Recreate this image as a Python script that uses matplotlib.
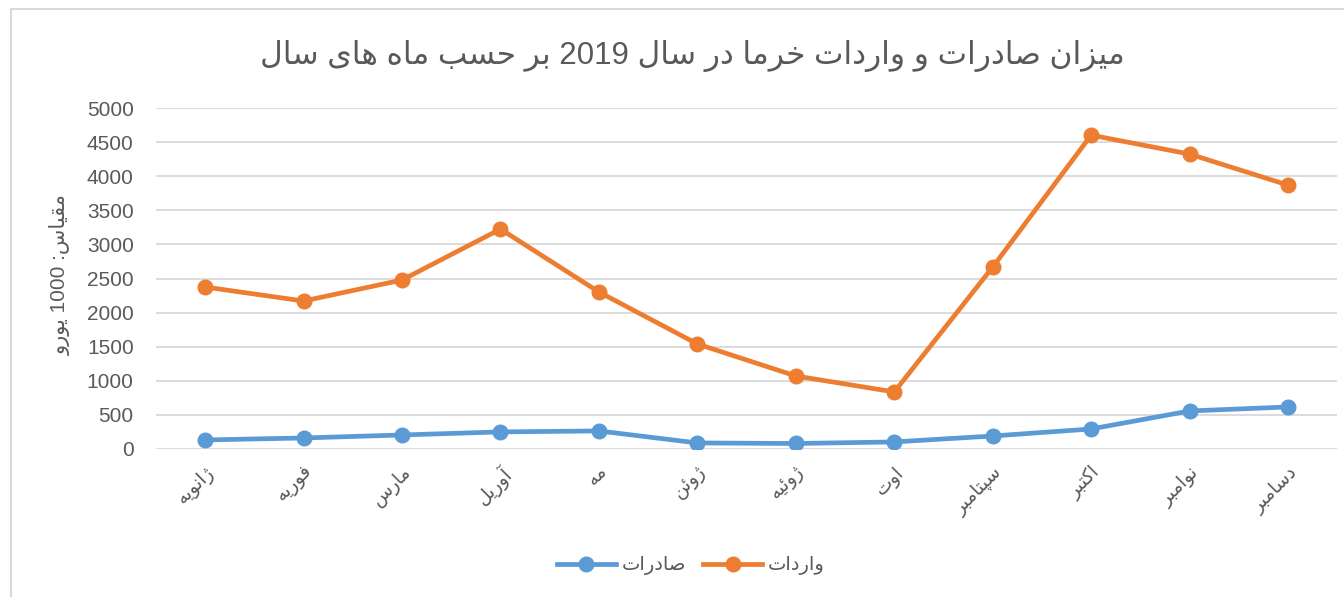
import re
import matplotlib
matplotlib.use("Agg")
import matplotlib.pyplot as plt
from matplotlib.patches import Rectangle

plt.rcParams['font.family'] = ['Liberation Sans', 'DejaVu Sans']

# data
months = ["ژانویه", "فوریه", "مارس", "آوریل", "مه", "ژوئن",
          "ژوئیه", "اوت", "سپتامبر", "اکتبر", "نوامبر", "دسامبر"]
exports = [132, 161, 205, 250, 264, 88, 80, 103, 190, 293, 557, 616]
imports = [2375, 2170, 2478, 3225, 2302, 1540, 1070, 836, 2668, 4603, 4325, 3870]
title = "میزان صادرات و واردات خرما در سال 2019 بر حسب ماه های سال"
ylabel = "مقیاس: 1000 یورو"
name_exp = "صادرات"
name_imp = "واردات"
yticks = [0, 500, 1000, 1500, 2000, 2500, 3000, 3500, 4000, 4500, 5000]

# arabic presentation forms: isolated, final, (initial, medial)
FORMS = {
    'ا': (0xFE8D, 0xFE8E), 'آ': (0xFE81, 0xFE82),
    'د': (0xFEA9, 0xFEAA), 'ر': (0xFEAD, 0xFEAE),
    'ز': (0xFEAF, 0xFEB0), 'ژ': (0xFB8A, 0xFB8B),
    'و': (0xFEED, 0xFEEE),
    'ب': (0xFE8F, 0xFE90, 0xFE91, 0xFE92), 'پ': (0xFB56, 0xFB57, 0xFB58, 0xFB59),
    'ت': (0xFE95, 0xFE96, 0xFE97, 0xFE98), 'ح': (0xFEA1, 0xFEA2, 0xFEA3, 0xFEA4),
    'خ': (0xFEA5, 0xFEA6, 0xFEA7, 0xFEA8), 'س': (0xFEB1, 0xFEB2, 0xFEB3, 0xFEB4),
    'ص': (0xFEB9, 0xFEBA, 0xFEBB, 0xFEBC), 'ف': (0xFED1, 0xFED2, 0xFED3, 0xFED4),
    'ق': (0xFED5, 0xFED6, 0xFED7, 0xFED8), 'ک': (0xFB8E, 0xFB8F, 0xFB90, 0xFB91),
    'ل': (0xFEDD, 0xFEDE, 0xFEDF, 0xFEE0), 'م': (0xFEE1, 0xFEE2, 0xFEE3, 0xFEE4),
    'ن': (0xFEE5, 0xFEE6, 0xFEE7, 0xFEE8), 'ه': (0xFEE9, 0xFEEA, 0xFEEB, 0xFEEC),
    'ی': (0xFBFC, 0xFBFD, 0xFBFE, 0xFBFF), 'ئ': (0xFE89, 0xFE8A, 0xFE8B, 0xFE8C),
}


def fa(s):
    # join letters, then put them in visual (right to left) order
    out = []
    for i, ch in enumerate(s):
        if ch not in FORMS:
            out.append(ch)
            continue
        prev = s[i - 1] if i > 0 else ''
        nxt = s[i + 1] if i < len(s) - 1 else ''
        f = FORMS[ch]
        jp = prev in FORMS and len(FORMS[prev]) == 4
        jn = nxt in FORMS and len(f) == 4
        if jp and jn:
            c = f[3]
        elif jp:
            c = f[1]
        elif jn:
            c = f[2]
        else:
            c = f[0]
        out.append(chr(c))
    parts = re.findall(r'\d+|\D', ''.join(out))
    return ''.join(parts[::-1])


grey = '#595959'
fig = plt.figure(figsize=(13.44, 5.97), dpi=100)
ax = fig.add_axes([0.116, 0.248, 0.879, 0.571])

x = list(range(len(months)))
ax.plot(x, exports, color='#5B9BD5', lw=3.4, marker='o', ms=10.5, label=fa(name_exp))
ax.plot(x, imports, color='#ED7D31', lw=3.4, marker='o', ms=10.5, label=fa(name_imp))

ax.set_xlim(-0.5, len(months) - 0.5)
ax.set_ylim(0, 5000)
ax.set_yticks(yticks)
ax.grid(axis='y', color='#D9D9D9', lw=1.3)
ax.set_axisbelow(True)
for sp in ax.spines.values():
    sp.set_visible(False)
ax.tick_params(axis='both', length=0, labelsize=15, labelcolor=grey)
ax.tick_params(axis='y', pad=16)
ax.set_xticks(x)
ax.set_xticklabels([fa(m) for m in months], rotation=45, ha='right', va='top',
                   rotation_mode='anchor', fontsize=13.5)
ax.tick_params(axis='x', pad=10)

fig.text(0.515, 0.906, fa(title), ha='center', va='center', fontsize=22.5, color=grey)
fig.text(0.045, 0.54, fa(ylabel), rotation=90, ha='center', va='center', fontsize=15, color=grey)

fig.legend(loc='center', bbox_to_anchor=(0.514, 0.052), ncol=2, frameon=False,
           fontsize=14, labelcolor=grey, handlelength=3.0, columnspacing=0.9, handletextpad=0.3)

fig.patches.append(Rectangle((11 / 1344, -0.1), 1.2, 1.1 - 9 / 597,
                             transform=fig.transFigure, fill=False,
                             edgecolor='#D9D9D9', lw=1.5))

fig.savefig('out.png', dpi=100, facecolor='white')
